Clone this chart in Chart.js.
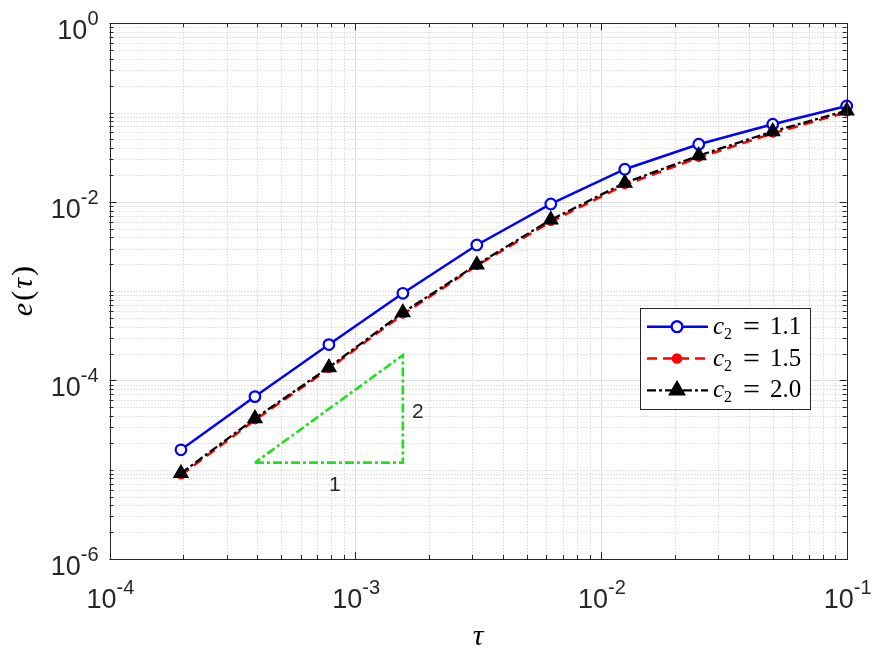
<!DOCTYPE html>
<html>
<head>
<meta charset="utf-8">
<script src="https://cdn.jsdelivr.net/npm/chart.js@4.4.0/dist/chart.umd.min.js"></script>
<style>
  html, body { margin: 0; padding: 0; background: #fff; }
  #wrap { width: 875px; height: 656px; }
</style>
</head>
<body>
<div id="wrap"><canvas id="errCanvas" width="875" height="656"></canvas></div>
<script>
// step sizes (tau) and errors e(tau) for each c2
const tau = [1.953125e-4, 3.90625e-4, 7.8125e-4, 1.5625e-3, 3.125e-3, 6.25e-3, 1.25e-2, 2.5e-2, 5e-2, 1e-1];
const errC11 = [1.67e-5, 6.59e-5, 2.52e-4, 9.46e-4, 3.29e-3, 9.47e-3, 2.32e-2, 4.42e-2, 7.4e-2, 1.186e-1];
const errC15 = [8.7e-6, 3.6e-5, 1.35e-4, 5.5e-4, 1.93e-3, 6.0e-3, 1.55e-2, 3.13e-2, 5.85e-2, 1.01e-1];
const errC20 = [9.1e-6, 3.75e-5, 1.4e-4, 5.75e-4, 1.98e-3, 6.3e-3, 1.63e-2, 3.3e-2, 6.15e-2, 1.05e-1];
const seriesNames = ['1.1', '1.5', '2.0'];

// slope triangle (order 2 reference)
const triX = [3.90625e-4, 1.5625e-3, 1.5625e-3, 3.90625e-4];
const triY = [1.2e-5, 1.2e-5, 1.92e-4, 1.2e-5];
const triLabels = ['1', '2'];

// tick labels
const xTicks = [1e-4, 1e-3, 1e-2, 1e-1];
const xTickExp = ['-4', '-3', '-2', '-1'];
const yTicks = [1e-6, 1e-4, 1e-2, 1e0];
const yTickExp = ['-6', '-4', '-2', '0'];

const AX = '#262626';
const toPts = (xs, ys) => xs.map((v, i) => ({ x: v, y: ys[i] }));

// positions 1..9 x each decade
function logPositions(lo, hi) {
  const out = [];
  for (let e = lo; e < hi; e++) {
    for (let k = 1; k <= 9; k++) out.push(k * Math.pow(10, e));
  }
  out.push(Math.pow(10, hi));
  return out;
}
const isMajor = (v, list) => list.some(t => Math.abs(Math.log10(v) - Math.log10(t)) < 1e-9);

function drawPow(ctx, x, y, exp, align) {
  ctx.font = '27px "Liberation Sans", Arial, sans-serif';
  const wb = ctx.measureText('10').width;
  ctx.font = '20px "Liberation Sans", Arial, sans-serif';
  const we = ctx.measureText(exp).width;
  const total = wb + we;
  let x0 = x;
  if (align === 'center') x0 = x - total / 2;
  if (align === 'right') x0 = x - total;
  ctx.textAlign = 'left';
  ctx.textBaseline = 'alphabetic';
  ctx.font = '27px "Liberation Sans", Arial, sans-serif';
  ctx.fillText('10', x0, y);
  ctx.font = '20px "Liberation Sans", Arial, sans-serif';
  ctx.fillText(exp, x0 + wb, y - 14);
}

const axesPlugin = {
  id: 'matlabAxes',
  beforeDatasetsDraw(chart) {
    const { ctx, chartArea: a, scales: { x, y } } = chart;
    ctx.save();
    ctx.lineWidth = 1;
    // minor grid (dotted)
    ctx.setLineDash([1, 2]);
    ctx.strokeStyle = '#c8c8c8';
    logPositions(-4, -1).forEach(v => {
      if (isMajor(v, xTicks)) return;
      const px = Math.round(x.getPixelForValue(v)) + 0.5;
      ctx.beginPath(); ctx.moveTo(px, a.top); ctx.lineTo(px, a.bottom); ctx.stroke();
    });
    logPositions(-6, 0).forEach(v => {
      if (isMajor(v, yTicks)) return;
      const py = Math.round(y.getPixelForValue(v)) + 0.5;
      ctx.beginPath(); ctx.moveTo(a.left, py); ctx.lineTo(a.right, py); ctx.stroke();
    });
    // major grid
    ctx.setLineDash([]);
    ctx.strokeStyle = '#dedede';
    xTicks.forEach(v => {
      const px = Math.round(x.getPixelForValue(v)) + 0.5;
      ctx.beginPath(); ctx.moveTo(px, a.top); ctx.lineTo(px, a.bottom); ctx.stroke();
    });
    yTicks.forEach(v => {
      const py = Math.round(y.getPixelForValue(v)) + 0.5;
      ctx.beginPath(); ctx.moveTo(a.left, py); ctx.lineTo(a.right, py); ctx.stroke();
    });
    ctx.restore();
  },
  afterDatasetsDraw(chart) {
    const { ctx, chartArea: a, scales: { x, y } } = chart;
    ctx.save();
    ctx.strokeStyle = AX;
    ctx.fillStyle = AX;
    ctx.lineWidth = 1;
    ctx.setLineDash([]);
    // box
    ctx.strokeRect(Math.round(a.left) + 0.5, Math.round(a.top) + 0.5,
      Math.round(a.right) - Math.round(a.left), Math.round(a.bottom) - Math.round(a.top));
    // ticks, inside on all four sides
    logPositions(-4, -1).forEach(v => {
      const len = isMajor(v, xTicks) ? 7 : 4;
      const px = Math.round(x.getPixelForValue(v)) + 0.5;
      ctx.beginPath();
      ctx.moveTo(px, a.bottom); ctx.lineTo(px, a.bottom - len);
      ctx.moveTo(px, a.top); ctx.lineTo(px, a.top + len);
      ctx.stroke();
    });
    logPositions(-6, 0).forEach(v => {
      const len = isMajor(v, yTicks) ? 7 : 4;
      const py = Math.round(y.getPixelForValue(v)) + 0.5;
      ctx.beginPath();
      ctx.moveTo(a.left, py); ctx.lineTo(a.left + len, py);
      ctx.moveTo(a.right, py); ctx.lineTo(a.right - len, py);
      ctx.stroke();
    });
    // tick labels
    xTicks.forEach((v, i) => drawPow(ctx, x.getPixelForValue(v) + 1, a.bottom + 49, xTickExp[i], 'center'));
    yTicks.forEach((v, i) => drawPow(ctx, a.left - 11, y.getPixelForValue(v) + 16, yTickExp[i], 'right'));

    // axis titles
    const serif = '"Liberation Serif", "Times New Roman", serif';
    ctx.fillStyle = '#000';
    ctx.textBaseline = 'alphabetic';
    ctx.textAlign = 'center';
    ctx.font = 'italic 30px ' + serif;
    ctx.fillText('\u03C4', (a.left + a.right) / 2, 645);

    const parts = [['e', 'italic 30px '], ['(', '30px '], ['\u03C4', 'italic 30px '], [')', '30px ']];
    const gap = 2;
    let tot = 0;
    parts.forEach(p => { ctx.font = p[1] + serif; tot += ctx.measureText(p[0]).width + gap; });
    tot -= gap;
    ctx.save();
    ctx.translate(23, (a.top + a.bottom) / 2);
    ctx.rotate(-Math.PI / 2);
    ctx.textAlign = 'left';
    let cx = -tot / 2;
    parts.forEach(p => {
      ctx.font = p[1] + serif;
      ctx.fillText(p[0], cx, 9);
      cx += ctx.measureText(p[0]).width + gap;
    });
    ctx.restore();

    // slope triangle labels
    ctx.fillStyle = AX;
    ctx.font = '21px "Liberation Sans", Arial, sans-serif';
    ctx.textAlign = 'center';
    const xl = x.getPixelForValue(triX[0]), xr = x.getPixelForValue(triX[1]);
    const yb = y.getPixelForValue(triY[0]), yt = y.getPixelForValue(triY[2]);
    ctx.fillText(triLabels[0], (xl + xr) / 2 + 6, yb + 28);
    ctx.fillText(triLabels[1], xr + 15, (yb + yt) / 2 + 9);
    ctx.restore();
  }
};

const legendPlugin = {
  id: 'boxLegend',
  afterDraw(chart) {
    const ctx = chart.ctx;
    const serif = '"Liberation Serif", "Times New Roman", serif';
    ctx.save();
    ctx.fillStyle = '#fff';
    ctx.fillRect(640.5, 308.5, 170, 101);
    ctx.strokeStyle = AX;
    ctx.lineWidth = 1;
    ctx.strokeRect(640.5, 308.5, 170, 101);
    const rows = [326.7, 358.5, 390.3];
    [0, 1, 2].forEach(i => {
      const ds = chart.data.datasets[i];
      const ly = rows[i];
      ctx.strokeStyle = ds.borderColor;
      ctx.lineWidth = ds.borderWidth;
      ctx.setLineDash(ds.borderDash || []);
      ctx.beginPath(); ctx.moveTo(647, ly); ctx.lineTo(708, ly); ctx.stroke();
      ctx.setLineDash([]);
      Chart.helpers.drawPoint(ctx, {
        pointStyle: ds.pointStyle, radius: ds.pointRadius, borderWidth: ds.pointBorderWidth, rotation: 0
      }, 677, ly);
      ctx.fillStyle = ds.pointBackgroundColor;
      ctx.strokeStyle = ds.pointBorderColor;
      ctx.lineWidth = ds.pointBorderWidth;
      ctx.fill();
      ctx.stroke();
      // label c_2 = value
      ctx.fillStyle = '#000';
      ctx.textAlign = 'left';
      ctx.textBaseline = 'alphabetic';
      const bl = ly + 7;
      ctx.font = 'italic 25px ' + serif;
      ctx.fillText('c', 713, bl);
      ctx.font = '16px ' + serif;
      ctx.fillText('2', 724, bl + 5);
      ctx.font = '30px ' + serif;
      ctx.fillText('=', 743, bl + 2);
      ctx.font = '25px ' + serif;
      ctx.fillText(seriesNames[i], 770, bl);
    });
    ctx.restore();
  }
};

const config = {
  type: 'line',
  data: {
    datasets: [
      {
        label: 'c2 = 1.1',
        data: toPts(tau, errC11),
        borderColor: '#0000ff',
        borderWidth: 2.5,
        pointStyle: 'circle',
        pointRadius: 5.3,
        pointBorderWidth: 2.2,
        pointBorderColor: '#0000ff',
        pointBackgroundColor: '#ffffff',
        order: 3,
        clip: false
      },
      {
        label: 'c2 = 1.5',
        data: toPts(tau, errC15),
        borderColor: '#ff0000',
        borderWidth: 2.5,
        borderDash: [10, 6],
        pointStyle: 'circle',
        pointRadius: 4,
        pointBorderWidth: 1,
        pointBorderColor: '#ff0000',
        pointBackgroundColor: '#ff0000',
        order: 2,
        clip: false
      },
      {
        label: 'c2 = 2.0',
        data: toPts(tau, errC20),
        borderColor: '#000000',
        borderWidth: 2.3,
        borderDash: [9, 3, 3, 3],
        pointStyle: 'triangle',
        pointRadius: 8,
        pointBorderWidth: 1.5,
        pointBorderColor: '#000000',
        pointBackgroundColor: '#000000',
        order: 1,
        clip: false
      },
      {
        label: 'slope',
        data: toPts(triX, triY),
        borderColor: '#1fe01f',
        borderWidth: 2.6,
        borderDash: [9, 3, 3, 3],
        pointRadius: 0,
        order: 4
      }
    ]
  },
  options: {
    responsive: false,
    animation: false,
    devicePixelRatio: 1,
    layout: { padding: { left: 109.5, top: 23.3, right: 28.3, bottom: 97 } },
    plugins: { legend: { display: false }, tooltip: { enabled: false } },
    elements: { line: { tension: 0 } },
    scales: {
      x: { type: 'logarithmic', min: 1e-4, max: 1e-1, display: false },
      y: { type: 'logarithmic', min: 1e-6, max: 1e0, display: false }
    }
  },
  plugins: [axesPlugin, legendPlugin]
};

const chart = new Chart(document.getElementById('errCanvas'), config);
</script>
</body>
</html>
